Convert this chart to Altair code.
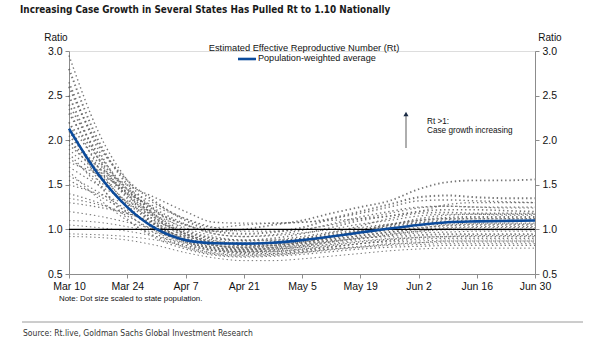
import altair as alt
import pandas as pd

# ---- data -------------------------------------------------------------
dates = ["2020-03-10", "2020-03-17", "2020-03-24", "2020-03-31", "2020-04-07",
         "2020-04-14", "2020-04-21", "2020-04-28", "2020-05-05", "2020-05-12",
         "2020-05-19", "2020-05-26", "2020-06-02", "2020-06-09", "2020-06-16",
         "2020-06-23", "2020-06-30"]

avg_rt = [2.13, 1.62, 1.25, 1.005, 0.88, 0.845, 0.84, 0.85, 0.88, 0.92,
          0.965, 1.01, 1.05, 1.08, 1.09, 1.095, 1.10]

state_rt = [
    [2.30, 1.80, 1.45, 1.20, 1.05, 0.98, 1.00, 1.05, 1.10, 1.18, 1.25, 1.32, 1.45, 1.53, 1.55, 1.55, 1.56],
    [2.60, 1.95, 1.55, 1.30, 1.10, 0.98, 0.95, 0.97, 1.02, 1.12, 1.20, 1.28, 1.36, 1.38, 1.36, 1.35, 1.35],
    [2.00, 1.70, 1.50, 1.35, 1.20, 1.08, 1.07, 1.07, 1.08, 1.12, 1.18, 1.25, 1.32, 1.33, 1.32, 1.31, 1.30],
    [1.90, 1.60, 1.40, 1.25, 1.12, 1.02, 0.98, 0.98, 1.00, 1.05, 1.12, 1.18, 1.24, 1.26, 1.25, 1.24, 1.24],
    [2.20, 1.75, 1.40, 1.15, 0.98, 0.90, 0.88, 0.90, 0.95, 1.02, 1.10, 1.15, 1.20, 1.22, 1.22, 1.21, 1.20],
    [1.70, 1.50, 1.32, 1.18, 1.05, 0.95, 0.92, 0.93, 0.96, 1.00, 1.06, 1.10, 1.15, 1.17, 1.17, 1.16, 1.16],
    [2.80, 2.00, 1.50, 1.15, 0.95, 0.85, 0.82, 0.84, 0.88, 0.93, 0.99, 1.05, 1.10, 1.13, 1.14, 1.14, 1.14],
    [1.50, 1.40, 1.28, 1.15, 1.02, 0.92, 0.88, 0.88, 0.90, 0.95, 1.00, 1.05, 1.08, 1.11, 1.12, 1.12, 1.12],
    [2.40, 1.85, 1.45, 1.12, 0.92, 0.82, 0.80, 0.82, 0.86, 0.92, 0.98, 1.03, 1.07, 1.09, 1.10, 1.10, 1.10],
    [1.30, 1.25, 1.18, 1.08, 0.97, 0.88, 0.85, 0.86, 0.89, 0.93, 0.97, 1.00, 1.04, 1.06, 1.07, 1.07, 1.07],
    [2.10, 1.65, 1.30, 1.05, 0.90, 0.82, 0.80, 0.82, 0.85, 0.90, 0.95, 0.99, 1.02, 1.04, 1.05, 1.05, 1.05],
    [1.80, 1.55, 1.30, 1.10, 0.95, 0.87, 0.84, 0.84, 0.86, 0.89, 0.93, 0.97, 1.00, 1.02, 1.03, 1.03, 1.03],
    [2.50, 1.80, 1.35, 1.05, 0.86, 0.77, 0.75, 0.77, 0.81, 0.86, 0.91, 0.95, 0.98, 1.00, 1.00, 1.00, 1.00],
    [1.60, 1.42, 1.22, 1.04, 0.90, 0.82, 0.79, 0.80, 0.82, 0.86, 0.90, 0.93, 0.96, 0.97, 0.98, 0.98, 0.98],
    [1.20, 1.15, 1.08, 1.00, 0.92, 0.85, 0.82, 0.82, 0.84, 0.87, 0.90, 0.92, 0.94, 0.95, 0.95, 0.95, 0.95],
    [2.00, 1.60, 1.25, 1.00, 0.84, 0.76, 0.74, 0.75, 0.78, 0.82, 0.86, 0.89, 0.91, 0.92, 0.93, 0.93, 0.93],
    [1.40, 1.30, 1.15, 0.98, 0.86, 0.78, 0.75, 0.75, 0.77, 0.80, 0.84, 0.87, 0.89, 0.90, 0.90, 0.90, 0.90],
    [1.05, 1.02, 0.98, 0.92, 0.85, 0.79, 0.76, 0.76, 0.78, 0.81, 0.84, 0.86, 0.87, 0.88, 0.88, 0.88, 0.88],
    [1.85, 1.50, 1.18, 0.95, 0.80, 0.72, 0.70, 0.71, 0.74, 0.78, 0.81, 0.84, 0.85, 0.86, 0.86, 0.86, 0.86],
    [0.95, 0.94, 0.92, 0.88, 0.82, 0.76, 0.73, 0.73, 0.75, 0.78, 0.80, 0.82, 0.83, 0.84, 0.84, 0.84, 0.84],
    [2.20, 1.55, 1.12, 0.90, 0.78, 0.71, 0.69, 0.70, 0.72, 0.75, 0.78, 0.80, 0.81, 0.82, 0.82, 0.82, 0.82],
    [0.92, 0.91, 0.88, 0.82, 0.74, 0.68, 0.65, 0.65, 0.67, 0.70, 0.73, 0.76, 0.78, 0.79, 0.79, 0.79, 0.79],
    [1.65, 1.35, 1.10, 0.92, 0.80, 0.73, 0.71, 0.72, 0.74, 0.77, 0.80, 0.83, 0.85, 0.87, 0.87, 0.87, 0.87],
    [2.95, 2.10, 1.55, 1.20, 1.00, 0.90, 0.87, 0.88, 0.92, 0.97, 1.02, 1.06, 1.10, 1.12, 1.12, 1.12, 1.12],
    [1.75, 1.62, 1.45, 1.28, 1.12, 1.02, 1.05, 1.07, 1.08, 1.10, 1.12, 1.15, 1.20, 1.28, 1.30, 1.30, 1.30],
    [2.05, 1.70, 1.38, 1.12, 0.95, 0.86, 0.84, 0.86, 0.90, 0.96, 1.04, 1.12, 1.18, 1.19, 1.18, 1.18, 1.18],
    [1.35, 1.28, 1.18, 1.06, 0.93, 0.83, 0.78, 0.78, 0.80, 0.84, 0.89, 0.94, 0.98, 1.01, 1.02, 1.02, 1.02],
    [2.65, 1.90, 1.40, 1.08, 0.88, 0.79, 0.77, 0.79, 0.83, 0.88, 0.93, 0.97, 1.01, 1.05, 1.06, 1.06, 1.06],
    [1.10, 1.08, 1.03, 0.96, 0.88, 0.80, 0.77, 0.78, 0.80, 0.83, 0.87, 0.90, 0.93, 0.94, 0.94, 0.94, 0.94],
    [1.55, 1.38, 1.20, 1.02, 0.88, 0.80, 0.78, 0.80, 0.85, 0.91, 0.98, 1.05, 1.12, 1.16, 1.17, 1.17, 1.17],
    [2.35, 1.70, 1.28, 0.98, 0.82, 0.74, 0.72, 0.73, 0.76, 0.80, 0.84, 0.88, 0.91, 0.92, 0.92, 0.92, 0.92],
    [1.95, 1.66, 1.42, 1.22, 1.06, 0.95, 0.92, 0.94, 0.99, 1.06, 1.14, 1.20, 1.25, 1.26, 1.25, 1.25, 1.25],
]
state_pop_weight = [1.8, 2.0, 1.4, 1.2, 1.6, 1.2, 2.0, 1.1, 1.7, 1.1, 1.5, 1.3,
                    1.9, 1.2, 1.1, 1.4, 1.2, 1.0, 1.3, 1.0, 1.2, 1.0, 1.1, 1.4,
                    1.2, 1.5, 1.1, 1.6, 1.0, 1.3, 1.2, 1.4]

y_ticks = [0.5, 1.0, 1.5, 2.0, 2.5, 3.0]
x_ticks = ["2020-03-10", "2020-03-24", "2020-04-07", "2020-04-21", "2020-05-05",
           "2020-05-19", "2020-06-02", "2020-06-16", "2020-06-30"]

# ---- tables -----------------------------------------------------------
rows = []
for i, series in enumerate(state_rt):
    for d, v in zip(dates, series):
        rows.append({"date": d + "T00:00:00", "state": f"s{i}", "rt": v,
                     "w": state_pop_weight[i]})
states_df = pd.DataFrame(rows)
avg_df = pd.DataFrame({"date": [d + "T00:00:00" for d in dates], "rt": avg_rt})
one_df = pd.DataFrame({"rt": [1.0]})

FONT = "Liberation Sans"
NARROW = "DejaVu Sans Condensed, Liberation Sans"

W, H = 466, 223
x_dom = ["2020-03-10T00:00:00", "2020-06-30T00:00:00"]
x_scale = alt.Scale(domain=x_dom, nice=False)
y_scale = alt.Scale(domain=[0.5, 3.0], nice=False, zero=False)

x_axis = alt.Axis(values=[d + "T00:00:00" for d in x_ticks], format="%b %-d",
                  title=None, grid=False, labelFontSize=10.5, labelFont=FONT,
                  labelColor="#111", domainColor="#8c8c8c", tickColor="#8c8c8c",
                  tickSize=4, labelPadding=3, labelFlush=False)

def y_axis(orient):
    return alt.Axis(orient=orient, values=y_ticks, format=".1f", title=None,
                    grid=False, labelFontSize=10.5, labelFont=FONT, labelColor="#111",
                    domainColor="#8c8c8c", tickColor="#8c8c8c", tickSize=4,
                    labelPadding=3)

state_lines = alt.Chart(states_df).mark_line(
    color="#5e5e5e", strokeDash=[1.4, 2.8], interpolate="monotone", opacity=0.85
).encode(
    x=alt.X("date:T", scale=x_scale, axis=x_axis),
    y=alt.Y("rt:Q", scale=y_scale, axis=y_axis("left")),
    detail="state:N",
    strokeWidth=alt.StrokeWidth("w:Q", scale=None, legend=None),
)

one_rule = alt.Chart(one_df).mark_rule(color="#000000", strokeWidth=1.3).encode(
    y=alt.Y("rt:Q", scale=y_scale)
)

avg_line = alt.Chart(avg_df).mark_line(
    color="#0b4b9c", strokeWidth=2.6, interpolate="monotone"
).encode(
    x=alt.X("date:T", scale=x_scale),
    y=alt.Y("rt:Q", scale=y_scale),
)

def txt(s, x, y, size=10, weight="normal", align="left", font=FONT, color="#111"):
    return alt.Chart(one_df).mark_text(
        text=s, fontSize=size, fontWeight=weight, align=align, baseline="middle",
        font=font, color=color
    ).encode(x=alt.value(x), y=alt.value(y))

ox, oy = 69, 51  # plot origin in page pixels

title = txt("Increasing Case Growth in Several States Has Pulled Rt to 1.10 Nationally",
            20 - ox, 10 - oy, size=9.9, weight="bold", font=NARROW, color="#1a1a1a")
ratio_l = txt("Ratio", 56 - ox, 38 - oy, size=10, align="center")
ratio_r = txt("Ratio", 550 - ox, 38 - oy, size=10, align="center")
leg_title = txt("Estimated Effective Reproductive Number (Rt)", 304 - ox, 48 - oy,
                size=9.3, align="center")
leg_line = alt.Chart(one_df).mark_rule(color="#0b4b9c", strokeWidth=2.6).encode(
    x=alt.value(238 - ox), x2=alt.value(256 - ox), y=alt.value(59 - oy))
leg_text = txt("Population-weighted average", 258 - ox, 58 - oy, size=9.1)
arrow_shaft = alt.Chart(one_df).mark_rule(color="#8c8c8c", strokeWidth=1.4).encode(
    x=alt.value(406 - ox), y=alt.value(148 - oy), y2=alt.value(115 - oy))
arrow_head = alt.Chart(one_df).mark_point(
    shape="triangle-up", filled=True, color="#1a2a44", size=26, opacity=1
).encode(x=alt.value(406 - ox), y=alt.value(114 - oy))
ann1 = txt("Rt >1:", 427 - ox, 122 - oy, size=8.2)
ann2 = txt("Case growth increasing", 427 - ox, 131 - oy, size=8.2)
note = txt("Note: Dot size scaled to state population.", 59 - ox, 299 - oy, size=7.9)
sep = alt.Chart(one_df).mark_rule(color="#9a9a9a", strokeWidth=1).encode(
    x=alt.value(22 - ox), x2=alt.value(583 - ox), y=alt.value(322 - oy))
source = txt("Source: Rt.live, Goldman Sachs Global Investment Research",
             23 - ox, 333 - oy, size=8.5, font=NARROW, color="#333")

left = alt.layer(state_lines, one_rule, avg_line, title, ratio_l, ratio_r,
                 leg_title, leg_line, leg_text, arrow_shaft, arrow_head,
                 ann1, ann2, note, sep, source)

right = alt.Chart(avg_df).mark_line(opacity=0).encode(
    x=alt.X("date:T", scale=x_scale),
    y=alt.Y("rt:Q", scale=y_scale, axis=y_axis("right")),
)

chart = alt.layer(left, right).resolve_scale(y="independent").properties(
    width=W, height=H,
    autosize=alt.AutoSizeParams(type="none"),
    padding={"left": ox, "top": oy, "right": 605 - ox - W, "bottom": 341 - oy - H},
).configure_view(strokeWidth=0).configure(background="white")

chart.save("out.html", embed_options={"renderer": "svg", "actions": False})
